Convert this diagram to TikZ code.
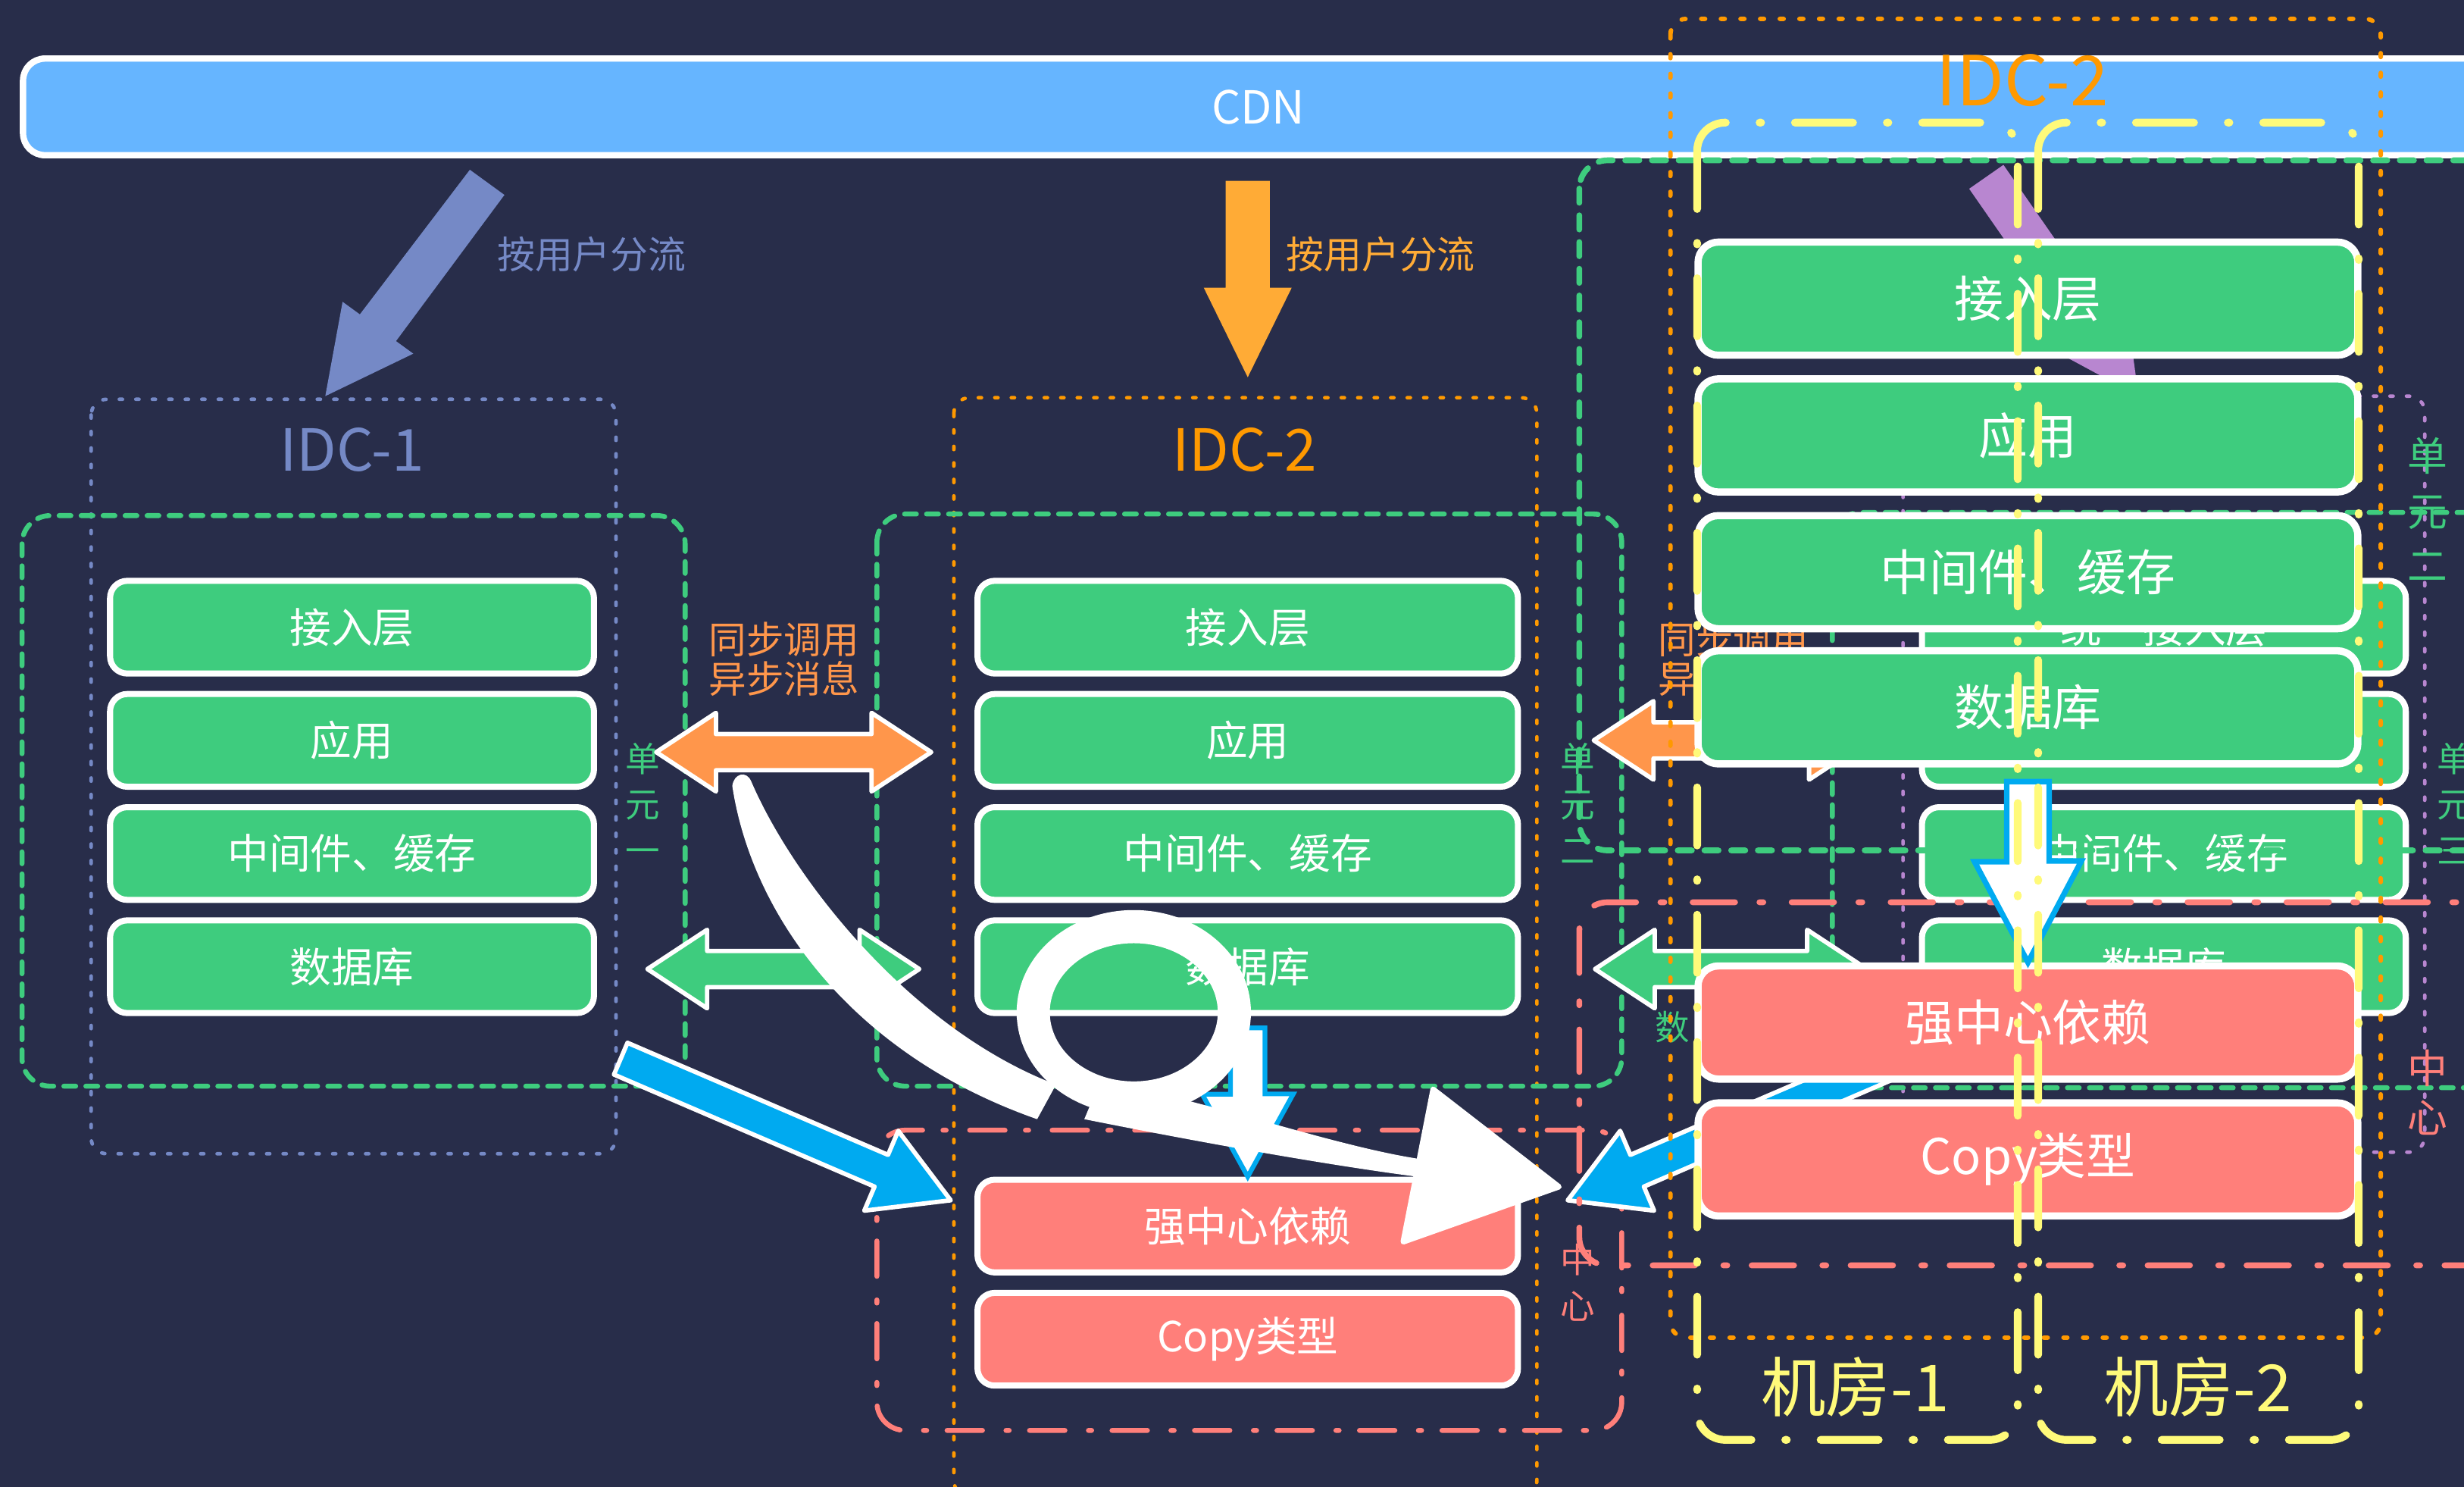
\documentclass[tikz,border=0pt]{standalone}
\usepackage{fontspec}
\usepackage{tikz}
\usetikzlibrary{positioning}
\newfontfamily\cjk{Noto Sans CJK SC}

\definecolor{bgnavy}{RGB}{40,45,74}
\definecolor{cdnblue}{RGB}{102,181,255}
\definecolor{ggreen}{RGB}{62,204,126}
\definecolor{salmon}{RGB}{255,127,122}
\definecolor{idcorange}{RGB}{255,153,0}
\definecolor{flowora}{RGB}{255,171,54}
\definecolor{syncora}{RGB}{255,150,75}
\definecolor{skyblue}{RGB}{0,170,240}
\definecolor{idcpurple}{RGB}{117,137,198}
\definecolor{lilac}{RGB}{184,134,208}
\definecolor{jyellow}{RGB}{255,250,122}

\tikzset{
  layer/.style={draw=white, line width=2.2pt, rounded corners=0.22cm, fill=ggreen,
    text=white, font=\cjk\fontsize{15}{18}\selectfont, minimum height=1.18cm, inner sep=0pt},
  redlayer/.style={layer, fill=salmon},
  biglayer/.style={layer, line width=2.6pt, rounded corners=0.26cm, minimum width=8.4cm,
    minimum height=1.44cm, font=\cjk\fontsize{17.8}{21}\selectfont},
  idcbox/.style={draw=#1, line width=1.3pt, line cap=round, dash pattern=on 0.04cm off 0.17cm, rounded corners=0.2cm},
  unitbox/.style={draw=ggreen, line width=1.8pt, line cap=round, dash pattern=on 0.15cm off 0.13cm, rounded corners=0.36cm},
  centerbox/.style={draw=salmon, line width=1.8pt, line cap=round, dash pattern=on 0.45cm off 0.3cm on 0.04cm off 0.26cm, rounded corners=0.36cm},
  roombox/.style={draw=jyellow, line width=2.8pt, line cap=round, dash pattern=on 0.74cm off 0.43cm on 0.02cm off 0.43cm, rounded corners=0.36cm},
  idclbl/.style={font=\cjk\fontsize{21}{24}\selectfont, text=#1, inner sep=0pt},
  flowlbl/.style={font=\cjk\fontsize{13.7}{16}\selectfont, text=#1, inner sep=0pt},
  synclbl/.style={font=\cjk\fontsize{13.6}{14.2}\selectfont, text=syncora, align=center, inner sep=0pt},
  unitlbl/.style={font=\cjk\fontsize{12.5}{16.6}\selectfont, text=#1, align=center, inner sep=0pt},
  roomlbl/.style={font=\cjk\fontsize{23.5}{26}\selectfont, text=jyellow, inner sep=0pt},
  fatarrow/.style={fill=#1, draw=white, line width=1.6pt, line join=round},
  downarrow/.style={fill=white, draw=skyblue, line width=1.7pt},
}

\newcommand{\syncarrow}[4]{%
  \filldraw[fatarrow=#1] (#2,#3) -- ++(38,-25) -- ++(0,13.5) -- ++({#4-76},0) -- ++(0,-13.5)
    -- ++(38,25) -- ++(-38,25) -- ++(0,-13.5) -- ++({76-#4},0) -- ++(0,13.5) -- cycle;}

\begin{document}
\begin{tikzpicture}[x=0.02cm, y=-0.02cm]
\fill[bgnavy] (0,0) rectangle (1568,946);
\useasboundingbox (0,0) rectangle (1568,946);
\clip (0,0) rectangle (1568,946);

% third column, mostly covered
\draw[idcbox=lilac] (1211,252) rectangle (1543,733);
\draw[unitbox] (1166,326) rectangle (1590,692);
\node[layer, minimum width=6.16cm] (c1) at (1377,399) {统一接入层};
\node[layer, minimum width=6.16cm] (c2) at (1377,471) {};
\node[layer, minimum width=6.16cm] (c3) at (1377,543) {中间件、缓存};
\node[layer, minimum width=6.16cm] (c4) at (1377,615) {数据库};
\node[unitlbl=ggreen] (u3) at (1562,511) {单\\元\\三};
\fill[lilac] (1274.9,104.9) -- (1340.5,199.3) -- (1352.5,191.0) -- (1360.9,252)
  -- (1306.7,222.8) -- (1318.7,214.5) -- (1253.1,120.1) -- cycle;

\node[draw=white, line width=2.3pt, fill=cdnblue, rounded corners=0.28cm, minimum width=31.45cm,
  minimum height=1.23cm, text=white, font=\cjk\fontsize{16.5}{19}\selectfont] (cdn) at (800.75,68) {CDN};

\fill[idcpurple] (321,124) -- (252,217) -- (263,225) -- (207,252) -- (218,192) -- (229,200) -- (299,108) -- cycle;
\node[flowlbl=idcpurple, anchor=west] (f1) at (316,162) {按用户分流};
\fill[flowora] (780,115) -- (808,115) -- (808,183) -- (822,183) -- (794,240) -- (766,183) -- (780,183) -- cycle;
\node[flowlbl=flowora, anchor=west] (f2) at (818,162) {按用户分流};

% IDC-1
\draw[idcbox=idcpurple] (58,254) rectangle (392,734);
\node[idclbl=idcpurple] (idc1) at (224,286) {IDC-1};
\draw[unitbox] (14,328) rectangle (436,691);
\foreach \n/\y/\t in {1/399/接入层, 2/471/应用, 3/543/中间件、缓存, 4/615/数据库}
  \node[layer, minimum width=6.16cm] (a\n) at (224,\y) {\t};
\node[unitlbl=ggreen] (u1) at (409,511) {单\\元\\一};

% IDC-2
\draw[idcbox=idcorange] (607,253) rectangle (978,952);
\node[idclbl=idcorange] (idc2) at (792,286) {IDC-2};
\draw[unitbox] (558,327) rectangle (1032,691);
\draw[centerbox] (558,719) rectangle (1032,910);
\foreach \n/\y/\t in {1/399/接入层, 2/471/应用, 3/543/中间件、缓存, 4/615/数据库}
  \node[layer, minimum width=6.88cm] (b\n) at (794,\y) {\t};
\node[redlayer, minimum width=6.88cm] (r1) at (794,780) {强中心依赖};
\node[redlayer, minimum width=6.88cm] (r2) at (794,852) {Copy类型};
\node[unitlbl=ggreen] (u2) at (1004,511) {单\\元\\二};
\node[unitlbl=salmon] (k2) at (1004,816) {中\\心};
\filldraw[downarrow] (b4.south) ++(-11,7.5) -- ++(22,0) -- ++(0,42) -- ++(18,0) -- (r1.north)
  -- ++(-29,-52.5) -- ++(18,0) -- cycle;

% between the units
\syncarrow{syncora}{417.6}{478.5}{175}
\syncarrow{ggreen}{412}{616.5}{173}
\node[synclbl] (s1) at (499,419.5) {同步调用\\异步消息};
\syncarrow{syncora}{1014.2}{471}{175}
\syncarrow{ggreen}{1015}{616.5}{173}
\node[synclbl] (s2) at (1103,419.5) {同步调用\\异步消息};
\node[unitlbl=ggreen, font=\cjk\fontsize{12.5}{15}\selectfont, anchor=west] (d2) at (1053,653.5) {数};

\filldraw[fatarrow=skyblue] (399.3,663.4) -- (565.1,734.7) -- (571.6,719.4) -- (605,763.6)
  -- (550,770.2) -- (556.5,754.9) -- (390.7,683.6) -- cycle;
\filldraw[fatarrow=skyblue] (1203.3,663.4) -- (1037.5,734.7) -- (1031,719.4) -- (997.6,763.6)
  -- (1052.6,770.2) -- (1046.1,754.9) -- (1211.9,683.6) -- cycle;

% hand drawn loop
\fill[white] (466,500) .. controls (478,580) and (540,670) .. (660,712) -- (672,690)
  .. controls (580,655) and (505,560) .. (478,497) .. controls (475,490) and (467,492) .. cycle;
\draw[white, line width=12pt] (721.5,644) ellipse [x radius=64, y radius=54.5];
\fill[white] (690,712) .. controls (770,728) and (850,742) .. (905,749) -- (908,738)
  .. controls (850,730) and (770,700) .. (700,688) -- cycle;
\filldraw[white, line width=2pt, line join=round] (912,693) -- (992,755) -- (893,790) -- cycle;

% IDC-2 again, larger
\draw[idcbox=idcorange, line width=1.6pt, dash pattern=on 0.05cm off 0.2cm] (1063,12) rectangle (1515,851);
\node[idclbl=idcorange, font=\cjk\fontsize{25}{28}\selectfont] (idc2b) at (1287,51) {IDC-2};
\draw[unitbox, line width=2.1pt, dash pattern=on 0.18cm off 0.16cm] (1005,102) rectangle (1600,541);
\draw[centerbox, line width=2.1pt, dash pattern=on 0.54cm off 0.36cm on 0.05cm off 0.31cm] (1005,574) rectangle (1600,805);
\foreach \n/\y/\t in {1/190/接入层, 2/277/应用, 3/364/中间件、缓存, 4/450/数据库}
  \node[biglayer] (o\n) at (1290.5,\y) {\t};
\node[biglayer, fill=salmon] (or1) at (1290.5,650.5) {强中心依赖};
\node[biglayer, fill=salmon] (or2) at (1290.5,737.6) {Copy类型};
\node[unitlbl=ggreen, font=\cjk\fontsize{14.5}{19.8}\selectfont] (u2b) at (1545,324) {单\\元\\二};
\node[unitlbl=salmon, font=\cjk\fontsize{14.5}{18}\selectfont] (k2b) at (1545,695) {中\\心};
\filldraw[downarrow, line width=2pt] (o4.south) ++(-13.5,9) -- ++(27,0) -- ++(0,50.5) -- ++(20.5,0) -- (or1.north)
  -- ++(-34,-64) -- ++(20.5,0) -- cycle;

% rooms
\draw[roombox] (1080,78) rectangle (1284,916);
\draw[roombox] (1297,78) rectangle (1501,916);
\node[roomlbl] (j1) at (1180.5,882.5) {机房-1};
\node[roomlbl] (j2) at (1398.7,882.5) {机房-2};
\end{tikzpicture}
\end{document}
